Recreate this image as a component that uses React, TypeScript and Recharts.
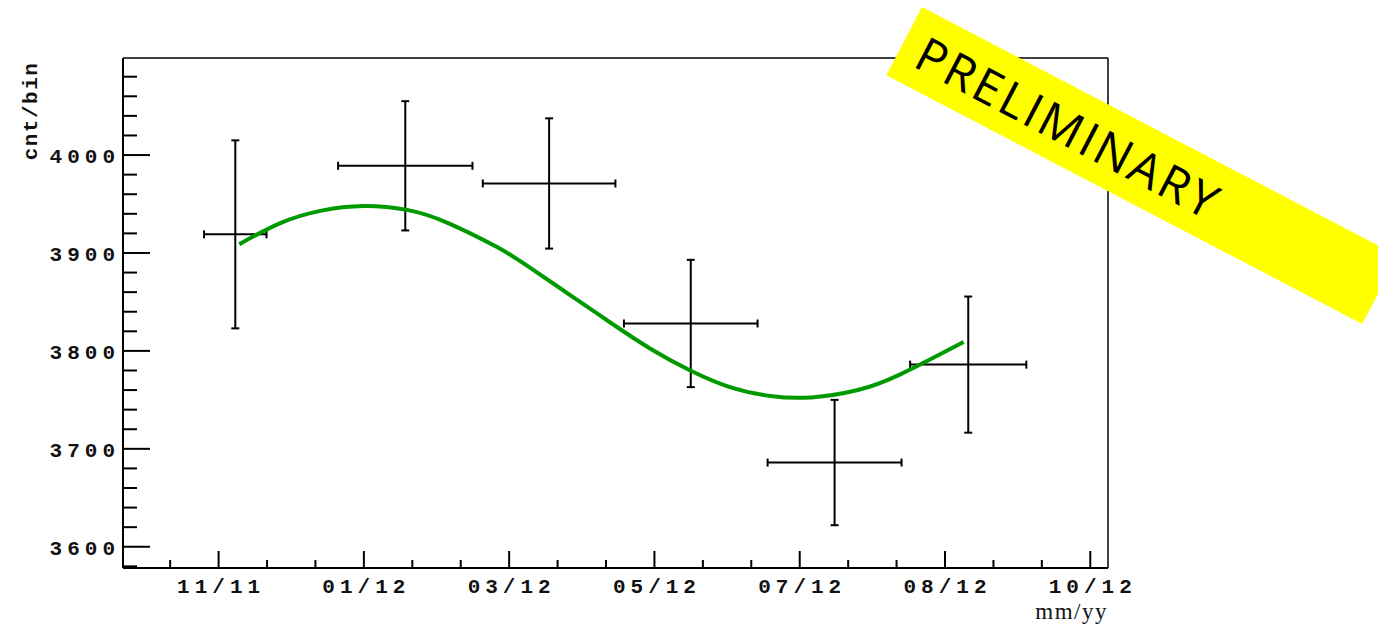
import {
  ComposedChart,
  ErrorBar,
  Line,
  ReferenceLine,
  Scatter,
  XAxis,
  YAxis,
} from 'recharts';

// Time axis in months, 0 = 11/11.
const monthTicks = [0, 2, 4, 6, 8, 10, 12];
const monthLabels = ['11/11', '01/12', '03/12', '05/12', '07/12', '08/12', '10/12'];
const countTicks = [3600, 3700, 3800, 3900, 4000];

// Binned counts with errors.
const binCenters = [0.23, 2.57, 4.55, 6.5, 8.48, 10.32];
const binHalfWidths = [0.43, 0.925, 0.913, 0.92, 0.922, 0.8];
const counts = [3919, 3989, 3971, 3828, 3686, 3786];
const countErrors = [96, 66, 66.5, 65, 64, 69.5];

// Seasonal fit curve.
const fitMonths = [0.285, 0.849, 1.4, 1.996, 2.594, 3.144, 3.833, 4.246, 4.84, 5.392, 5.95, 6.494, 7.04, 7.595, 8.159, 8.8, 9.385, 10.256];
const fitCounts = [3909, 3930.5, 3943, 3948, 3944, 3931, 3906, 3887, 3857, 3829, 3802, 3780, 3763, 3754, 3752.5, 3760, 3776, 3809];

const X_MIN = -1.316;
const X_MAX = 12.244;
const Y_MIN = 3578.3;
const Y_MAX = 4099.1;

const PLOT_LEFT = 123;
const PLOT_BOTTOM = 568;

const MONO = '"Liberation Mono", "DejaVu Sans Mono", monospace';
const LS = 5;

const fitData = fitMonths.map((m, i) => ({ m, fit: fitCounts[i] }));
const points = binCenters.map((m, i) => ({
  m,
  v: counts[i],
  xErr: binHalfWidths[i],
  yErr: countErrors[i],
}));

// minor ticks every 20 counts / every 2/3 month, majors carry labels
const yTickValues: number[] = [];
for (let v = 3580; v <= 4080; v += 20) yTickValues.push(v);
const xTickValues: number[] = [];
for (let k = -1; k <= 18; k++) xTickValues.push(Math.round((k * 2) / 3 * 1000) / 1000);

function YTick(props: any) {
  const { y, payload } = props;
  const major = countTicks.includes(payload.value);
  return (
    <g>
      <line x1={PLOT_LEFT} x2={PLOT_LEFT + (major ? 27 : 14)} y1={y} y2={y} stroke="#000" strokeWidth={2} />
      {major && (
        <text x={115 + LS} y={y + 8} textAnchor="end" fontFamily={MONO} fontSize={21} fontWeight="bold" letterSpacing={LS} fill="#111">
          {payload.value}
        </text>
      )}
    </g>
  );
}

function XTick(props: any) {
  const { x, payload } = props;
  const idx = monthTicks.indexOf(payload.value);
  const major = idx >= 0;
  return (
    <g>
      <line x1={x} x2={x} y1={PLOT_BOTTOM} y2={PLOT_BOTTOM - (major ? 17 : 8)} stroke="#000" strokeWidth={2} />
      {major && (
        <text x={x + LS / 2} y={593} textAnchor="middle" fontFamily={MONO} fontSize={21} fontWeight="bold" letterSpacing={LS} fill="#111">
          {monthLabels[idx]}
        </text>
      )}
    </g>
  );
}

const noMarker = () => <g />;

export default function App() {
  return (
    <div style={{ position: 'absolute', left: 0, top: 0, width: 1378, height: 625, overflow: 'hidden', background: '#fff' }}>
      <ComposedChart
        width={1378}
        height={625}
        data={fitData}
        margin={{ top: 58, right: 270, bottom: 0, left: 0 }}
      >
        <XAxis
          dataKey="m"
          type="number"
          domain={[X_MIN, X_MAX]}
          allowDataOverflow
          ticks={xTickValues}
          interval={0}
          height={57}
          tickLine={false}
          tick={<XTick />}
          axisLine={{ stroke: '#000', strokeWidth: 2 }}
        />
        <YAxis
          type="number"
          domain={[Y_MIN, Y_MAX]}
          allowDataOverflow
          ticks={yTickValues}
          interval={0}
          width={123}
          tickLine={false}
          tick={<YTick />}
          axisLine={{ stroke: '#000', strokeWidth: 2 }}
        />
        <ReferenceLine y={Y_MAX} stroke="#000" strokeWidth={1.5} />
        <ReferenceLine x={X_MAX} stroke="#000" strokeWidth={1.5} />
        <Scatter data={points} dataKey="v" shape={noMarker} isAnimationActive={false}>
          <ErrorBar dataKey="xErr" direction="x" width={4} stroke="#000" strokeWidth={2} />
          <ErrorBar dataKey="yErr" direction="y" width={4} stroke="#000" strokeWidth={2} />
        </Scatter>
        <Line
          dataKey="fit"
          type="natural"
          stroke="#009a00"
          strokeWidth={4}
          dot={false}
          activeDot={false}
          isAnimationActive={false}
        />
      </ComposedChart>

      <svg width={1378} height={625} style={{ position: 'absolute', left: 0, top: 0, pointerEvents: 'none' }}>
        <text
          transform="translate(37,111) rotate(-90)"
          textAnchor="middle"
          fontFamily={MONO}
          fontSize={21}
          fontWeight="bold"
          letterSpacing={1.5}
          fill="#111"
        >
          cnt/bin
        </text>
        <text x={1108} y={619} textAnchor="end" fontFamily='"Liberation Serif", serif' fontSize={23} letterSpacing={1.5} fill="#111">
          mm/yy
        </text>
      </svg>

      <div
        style={{
          position: 'absolute',
          left: 921.7,
          top: 6.7,
          width: 537,
          height: 77,
          background: '#ffff00',
          transform: 'rotate(27.6deg)',
          transformOrigin: '0 0',
          display: 'flex',
          alignItems: 'center',
        }}
      >
        <div
          style={{
            width: 372,
            textAlign: 'center',
            fontFamily: '"Open Sans", sans-serif',
            fontSize: 48,
            fontWeight: 500,
            letterSpacing: 3,
            color: '#000',
            lineHeight: 1,
          }}
        >
          PRELIMINARY
        </div>
      </div>
    </div>
  );
}
